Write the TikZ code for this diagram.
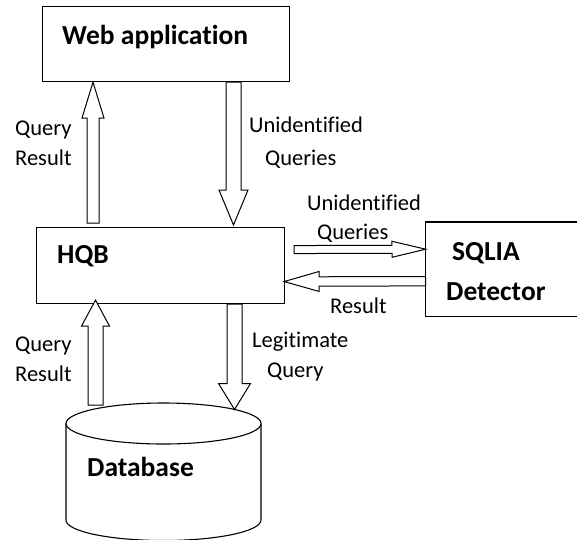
\documentclass[tikz,border=0pt]{standalone}
\usepackage{fontspec}
\setmainfont[Ligatures={NoCommon}, RawFeature={-liga;-clig}]{Carlito}
\usetikzlibrary{calc}
\tikzset{
  boxline/.style={draw=black, line width=1.1pt, fill=white},
  emptybox/.style={boxline, rectangle, inner sep=0pt, anchor=north west},
  openbox/.style={rectangle, inner sep=0pt, anchor=north west},
  barrow/.style={draw=black, line width=1pt, fill=white, line join=miter},
  lbl/.style={inner sep=0pt, anchor=base west, font=\fontsize{22.5}{27}\selectfont},
  bold/.style={inner sep=0pt, anchor=base west, font=\bfseries\fontsize{27.5}{33}\selectfont}
}
\newcommand\blockarrow[5]{%
  \coordinate (ba-h) at ($(#2)!#5!(#1)$);
  \draw[barrow] ($(#1)!#3!90:(#2)$) -- ($(ba-h)!#3!-90:(#1)$) -- ($(ba-h)!#4!-90:(#1)$)
    -- (#2) -- ($(ba-h)!#4!90:(#1)$) -- ($(ba-h)!#3!90:(#1)$) -- ($(#1)!#3!-90:(#2)$) -- cycle;
}
\begin{document}
\begin{tikzpicture}[x=1pt, y=-1pt]
\useasboundingbox (0,0) rectangle (577,539);

% boxes
\node[emptybox, minimum width=247pt, minimum height=75pt] (web) at (42,6) {};
\node[emptybox, minimum width=248pt, minimum height=76pt] (hqb) at (36,227) {};
\node[openbox, minimum width=151.3pt, minimum height=94pt] (sqlia) at (425.7,222) {};
\draw[line width=1.1pt] (sqlia.north east) -- (sqlia.north west) -- (sqlia.south west) -- (sqlia.south east);

% database cylinder
\coordinate (dbc) at (163.5,423.5);
\draw[boxline] (66,423.5) -- (66,520) arc[start angle=180, end angle=360, x radius=97.5pt, y radius=20.5pt] -- (261,423.5);
\draw[boxline] (dbc) ellipse [x radius=97.5pt, y radius=20.5pt];

% anchor points for the block arrows
\coordinate (a1tail) at ($(hqb.north west)+(57,-4)$);
\coordinate (a1tip)  at ($(web.south west)+(51,0)$);
\coordinate (a2tail) at ($(web.south west)+(191.5,0)$);
\coordinate (a2tip)  at ($(hqb.north west)+(197.5,-2)$);
\coordinate (a3tail) at ($(hqb.east)+(9,-16)$);
\coordinate (a3tip)  at ($(sqlia.west)+(0,-20)$);
\coordinate (a4tail) at ($(sqlia.west)+(0,12)$);
\coordinate (a4tip)  at ($(hqb.east)+(-1,16)$);
\coordinate (a5tail) at ($(dbc)+(-68,-18.5)$);
\coordinate (a5tip)  at ($(hqb.south west)+(59.5,-4)$);
\coordinate (a6tail) at ($(hqb.south west)+(198.5,0)$);
\coordinate (a6tip)  at ($(dbc)+(71,-14)$);

\blockarrow{a1tail}{a1tip}{6pt}{11pt}{36pt}
\blockarrow{a2tail}{a2tip}{7.5pt}{14.5pt}{35pt}
\blockarrow{a3tail}{a3tip}{4pt}{8pt}{33.7pt}
\blockarrow{a4tail}{a4tip}{4.7pt}{10pt}{35pt}
\blockarrow{a5tail}{a5tip}{7.5pt}{14pt}{26pt}
\blockarrow{a6tail}{a6tip}{7.5pt}{16pt}{26pt}

% bold titles
\node[bold] (webt) at (62,44) {Web application};
\node[bold] (hqbt) at (57,263) {HQB};
\node[bold] (sqliat) at (452,260) {SQLIA};
\node[bold] (dett) at (446,300) {Detector};
\node[bold] (dbt) at (87,476) {Database};

% labels
\node[lbl] (l1a) at (15,135) {Query};
\node[lbl] (l1b) at (15,165) {Result};
\node[lbl] (l2a) at (249,132) {Unidentified};
\node[lbl] (l2b) at (265,165) {Queries};
\node[lbl] (l3a) at (307,210) {Unidentified};
\node[lbl] (l3b) at (317,239) {Queries};
\node[lbl] (l4) at (330,313) {Result};
\node[lbl] (l5a) at (15,351) {Query};
\node[lbl] (l5b) at (15,381) {Result};
\node[lbl] (l6a) at (252,347) {Legitimate};
\node[lbl] (l6b) at (267,377) {Query};
\end{tikzpicture}
\end{document}
